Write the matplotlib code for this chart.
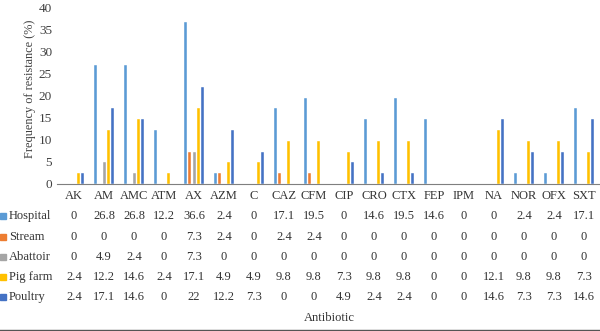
import matplotlib.pyplot as plt
import matplotlib.transforms as mtransforms
from matplotlib.patches import Rectangle
from matplotlib.lines import Line2D
import numpy as np

plt.rcParams['font.family'] = ['Liberation Serif', 'DejaVu Serif']

antibiotics = ["AK", "AM", "AMC", "ATM", "AX", "AZM", "C", "CAZ", "CFM", "CIP",
               "CRO", "CTX", "FEP", "IPM", "NA", "NOR", "OFX", "SXT"]
sources = ["Hospital", "Stream", "Abattoir", "Pig farm", "Poultry"]
hospital = [0, 26.8, 26.8, 12.2, 36.6, 2.4, 0, 17.1, 19.5, 0, 14.6, 19.5, 14.6, 0, 0, 2.4, 2.4, 17.1]
stream = [0, 0, 0, 0, 7.3, 2.4, 0, 2.4, 2.4, 0, 0, 0, 0, 0, 0, 0, 0, 0]
abattoir = [0, 4.9, 2.4, 0, 7.3, 0, 0, 0, 0, 0, 0, 0, 0, 0, 0, 0, 0, 0]
pig_farm = [2.4, 12.2, 14.6, 2.4, 17.1, 4.9, 4.9, 9.8, 9.8, 7.3, 9.8, 9.8, 0, 0, 12.1, 9.8, 9.8, 7.3]
poultry = [2.4, 17.1, 14.6, 0, 22, 12.2, 7.3, 0, 0, 4.9, 2.4, 2.4, 0, 0, 14.6, 7.3, 7.3, 14.6]
series = [hospital, stream, abattoir, pig_farm, poultry]
colors = ["#5B9BD5", "#ED7D31", "#A5A5A5", "#FFC000", "#4472C4"]

W, H = 600, 331
fig = plt.figure(figsize=(6, 3.31), dpi=100)
ax = fig.add_axes([59 / W, 1 - 184 / H, 540 / W, 177 / H])

x = np.arange(len(antibiotics))
pitch = 0.143
for k, (vals, c) in enumerate(zip(series, colors)):
    ax.bar(x + (k - 2) * pitch, vals, width=0.1, color=c, edgecolor='white', linewidth=0.3)

ax.set_xlim(-0.5, len(antibiotics) - 0.5)
ax.set_ylim(0, 40)
ax.set_yticks(range(0, 41, 5))
ax.set_xticks([])
for s in ['top', 'right', 'left']:
    ax.spines[s].set_visible(False)
ax.spines['bottom'].set_color('#7f7f7f')
ax.spines['bottom'].set_linewidth(0.8)
ax.spines['bottom'].set_bounds(-0.57, len(antibiotics) - 0.5)
ax.tick_params(axis='y', length=0, labelsize=9.5, labelcolor='#404040', pad=5)
ax.set_ylabel("Frequency of resistance (%)", fontsize=8.8, color='#404040')
ax.yaxis.set_label_coords(-23 / 540, 0.54)

# data table below the axis
tr = mtransforms.blended_transform_factory(ax.transData, fig.transFigure)
fs = 9
tc = '#333333'
for i, name in enumerate(antibiotics):
    ax.text(i, 1 - 196 / H, name, transform=tr, ha='center', va='center', fontsize=fs, color=tc)
row_y = [216, 236.5, 257, 277, 297]
for k, (name, vals, c) in enumerate(zip(sources, series, colors)):
    yf = 1 - row_y[k] / H
    fig.patches.append(Rectangle((0, yf - 3 / H), 6 / W, 6 / H, transform=fig.transFigure,
                                 color=c, zorder=3))
    fig.text(9 / W, yf, name, ha='left', va='center', fontsize=fs, color=tc)
    for i, v in enumerate(vals):
        ax.text(i, yf, f"{v:g}", transform=tr, ha='center', va='center', fontsize=fs, color=tc)

ax.text(0.5, 1 - 318 / H, "Antibiotic", transform=mtransforms.blended_transform_factory(ax.transAxes, fig.transFigure),
        ha='center', va='center', fontsize=fs, color=tc)
fig.lines.append(Line2D([0, 1], [1 - 330 / H, 1 - 330 / H], transform=fig.transFigure,
                        color='#555555', linewidth=1))

fig.savefig("out.png", dpi=100)
